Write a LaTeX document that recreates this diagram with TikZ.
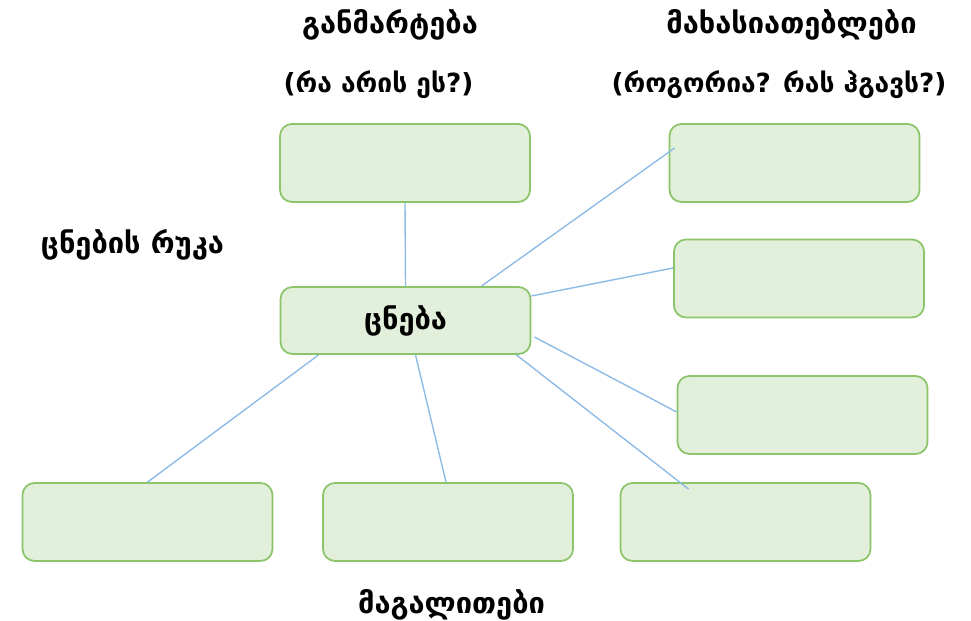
\documentclass[tikz,border=0pt]{standalone}
\usepackage{fontspec}
\setmainfont{DejaVu Sans}
\usepackage{xcolor}
\usepackage{tikz}
\usetikzlibrary{positioning}
\definecolor{boxfill}{HTML}{E2EFDA}
\definecolor{boxline}{HTML}{8CC46A}
\definecolor{linkblue}{HTML}{8FBCE6}

\begin{document}
\begin{tikzpicture}[every node/.style={font=\bfseries\fontsize{16.5}{18}\selectfont},
    ask/.style={font=\bfseries\fontsize{15}{17}\selectfont},
    card/.style={draw=boxline, fill=boxfill, line width=1pt, rounded corners=0.24cm, minimum width=5cm, minimum height=1.56cm},
    link/.style={draw=linkblue, line width=0.8pt}]
   % Frame
   \useasboundingbox (0,0) rectangle (19.42,12.42);
    % Headings
    \node (defhead) at (7.8,11.92) {განმარტება};
    \node[ask] (defask) at (7.57,10.72) {(რა არის ეს?)};
    \node (charhead) at (15.83,11.92) {მახასიათებლები};
    \node[ask] (charask) at (15.58,10.72) {(როგორია? რას ჰგავს?)};
    \node (maptitle) at (2.65,7.52) {ცნების რუკა};
    \node (exhead) at (9.03,0.32) {მაგალითები};

    % Boxes
    \node[card] (defn) at (8.1,9.16) {};
    \node[card, minimum height=1.34cm] (concept) at (8.11,6.01) {ცნება};
    \node[card] (char1) at (15.89,9.16) {};
    \node[card] (char2) at (15.98,6.85) {};
    \node[card] (char3) at (16.05,4.12) {};
    \node[card] (ex1) at (2.95,1.98) {};
    \node[card] (ex2) at (8.96,1.98) {};
    \node[card] (ex3) at (14.91,1.98) {};

    % Links
    \draw[link] (concept.north) -- (defn.south);
    \draw[link] ([xshift=-1cm]concept.north east) -- ([xshift=0.12cm, yshift=0.3cm]char1.west);
    \draw[link] ([yshift=0.49cm]concept.east) -- ([yshift=0.21cm]char2.west);
    \draw[link] ([xshift=0.06cm, yshift=-0.33cm]concept.east) -- ([yshift=0.06cm]char3.west);
    \draw[link] ([xshift=-0.3cm]concept.south east) -- ([xshift=1.38cm, yshift=-0.14cm]ex3.north west);
    \draw[link] ([xshift=0.78cm]concept.south west) -- (ex1.north);
    \draw[link] ([xshift=0.2cm]concept.south) -- ([xshift=-0.04cm]ex2.north);
\end{tikzpicture}
\end{document}
